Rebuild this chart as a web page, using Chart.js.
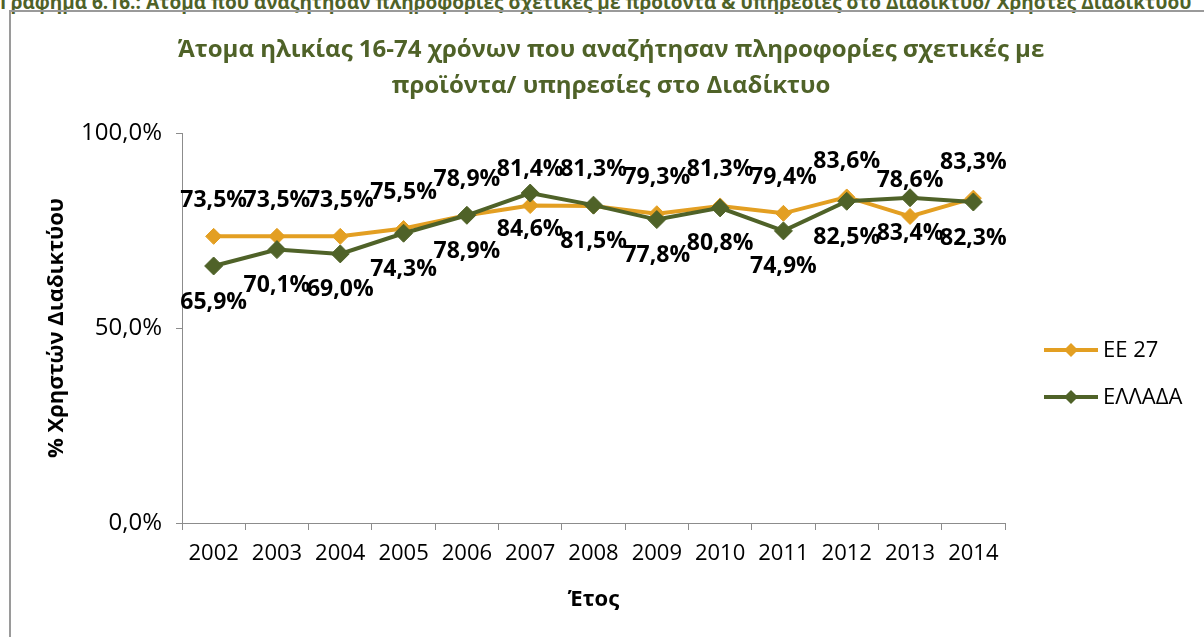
<!DOCTYPE html>
<html>
<head>
<meta charset="utf-8">
<script src="https://cdn.jsdelivr.net/npm/chart.js@4.4.1/dist/chart.umd.min.js"></script>
<style>
    html, body { margin: 0; padding: 0; background: #fff; overflow: hidden; }
    #caption {
        position: absolute; left: 0; top: -11px; white-space: nowrap;
        font: bold 19px "Liberation Sans Narrow", "Open Sans", sans-serif; color: #4f6228;
    }
    #frame {
        position: absolute; left: 9px; top: 10px; width: 1400px; height: 800px;
        border: 2px solid #9a9a9a; box-sizing: border-box;
    }
    #chart-container { position: absolute; left: 0; top: 0; width: 1204px; height: 637px; }
</style>
</head>
<body>
<div id="caption">Γράφημα 6.16.: Άτομα που αναζήτησαν πληροφορίες σχετικές με προϊόντα &amp; υπηρεσίες στο Διαδίκτυο/ Χρήστες Διαδικτύου</div>
<div id="frame"></div>
<div id="chart-container"><canvas id="chart" width="1204" height="637"></canvas></div>
<script>
const years = ['2002', '2003', '2004', '2005', '2006', '2007', '2008', '2009', '2010', '2011', '2012', '2013', '2014'];
const eu27 = [73.5, 73.5, 73.5, 75.5, 78.9, 81.4, 81.3, 79.3, 81.3, 79.4, 83.6, 78.6, 83.3];
const greece = [65.9, 70.1, 69.0, 74.3, 78.9, 84.6, 81.5, 77.8, 80.8, 74.9, 82.5, 83.4, 82.3];
const yTicks = [0, 50, 100];

const titleLines = ['Άτομα ηλικίας 16-74 χρόνων που αναζήτησαν πληροφορίες σχετικές με', 'προϊόντα/ υπηρεσίες στο Διαδίκτυο'];
const orange = '#e39f22';
const green = '#4f6228';
const fontFamily = '"Open Sans", sans-serif';

const pct = v => v.toFixed(1).replace('.', ',') + '%';

// Title, legend and value labels drawn straight on the canvas
const extras = {
    id: 'extras',
    afterDatasetsDraw(chart) {
        const ctx = chart.ctx;
        ctx.save();

        // title
        ctx.fillStyle = green;
        ctx.font = 'bold 24px ' + fontFamily;
        ctx.textAlign = 'center';
        ctx.textBaseline = 'middle';
        ctx.fillText(titleLines[0], 611, 50);
        ctx.fillText(titleLines[1], 611, 86);

        // value labels: EE 27 above, ΕΛΛΑΔΑ below
        ctx.fillStyle = '#000';
        ctx.font = 'bold 23px ' + fontFamily;
        chart.data.datasets.forEach((ds, i) => {
            const meta = chart.getDatasetMeta(i);
            const dy = i === 0 ? -36 : 36;
            meta.data.forEach((pt, j) => {
                ctx.fillText(pct(ds.data[j]), pt.x, pt.y + dy);
            });
        });

        // legend
        chart.data.datasets.forEach((ds, i) => {
            const y = 350 + i * 47;
            ctx.strokeStyle = ds.borderColor;
            ctx.lineWidth = 4;
            ctx.beginPath();
            ctx.moveTo(1044, y);
            ctx.lineTo(1098, y);
            ctx.stroke();
            ctx.fillStyle = ds.borderColor;
            ctx.beginPath();
            ctx.moveTo(1071, y - 7);
            ctx.lineTo(1078, y);
            ctx.lineTo(1071, y + 7);
            ctx.lineTo(1064, y);
            ctx.closePath();
            ctx.fill();
            ctx.fillStyle = '#000';
            ctx.font = '22px ' + fontFamily;
            ctx.textAlign = 'left';
            ctx.fillText(ds.label, 1103, y + 1);
        });

        ctx.restore();
    }
};

new Chart(document.getElementById('chart'), {
    type: 'line',
    data: {
        labels: years,
        datasets: [{
            label: 'ΕΕ 27',
            data: eu27,
            borderColor: orange,
            backgroundColor: orange,
            borderWidth: 4,
            pointStyle: 'rectRot',
            pointRadius: 8,
            pointBorderWidth: 1,
            order: 1
        }, {
            label: 'ΕΛΛΑΔΑ',
            data: greece,
            borderColor: green,
            backgroundColor: green,
            borderWidth: 4,
            pointStyle: 'rectRot',
            pointRadius: 9,
            pointBorderWidth: 1,
            order: 0
        }]
    },
    options: {
        responsive: false,
        animation: false,
        events: [],
        layout: { padding: { left: 40, right: 199, top: 133, bottom: 20 } },
        plugins: {
            legend: { display: false },
            title: { display: false },
            tooltip: { enabled: false }
        },
        scales: {
            x: {
                offset: true,
                afterFit: scale => { scale.height = 94; },
                grid: { drawOnChartArea: false, offset: true, tickLength: 7, color: '#8c8c8c' },
                border: { color: '#8c8c8c' },
                ticks: { color: '#000', padding: 11, maxRotation: 0, font: { family: fontFamily, size: 22 } },
                title: { display: true, text: 'Έτος', color: '#000', font: { family: fontFamily, size: 22, weight: 'bold' } }
            },
            y: {
                min: 0,
                max: 100,
                afterFit: scale => { scale.width = 142; },
                afterBuildTicks: scale => { scale.ticks = yTicks.map(v => ({ value: v })); },
                grid: { drawOnChartArea: false, tickLength: 6, color: '#8c8c8c' },
                border: { color: '#8c8c8c' },
                ticks: { color: '#000', padding: 14, callback: v => pct(v), font: { family: fontFamily, size: 24 } },
                title: { display: true, text: '% Χρηστών Διαδικτύου', color: '#000', font: { family: fontFamily, size: 22, weight: 'bold' } }
            }
        }
    },
    plugins: [extras]
});
</script>
</body>
</html>
